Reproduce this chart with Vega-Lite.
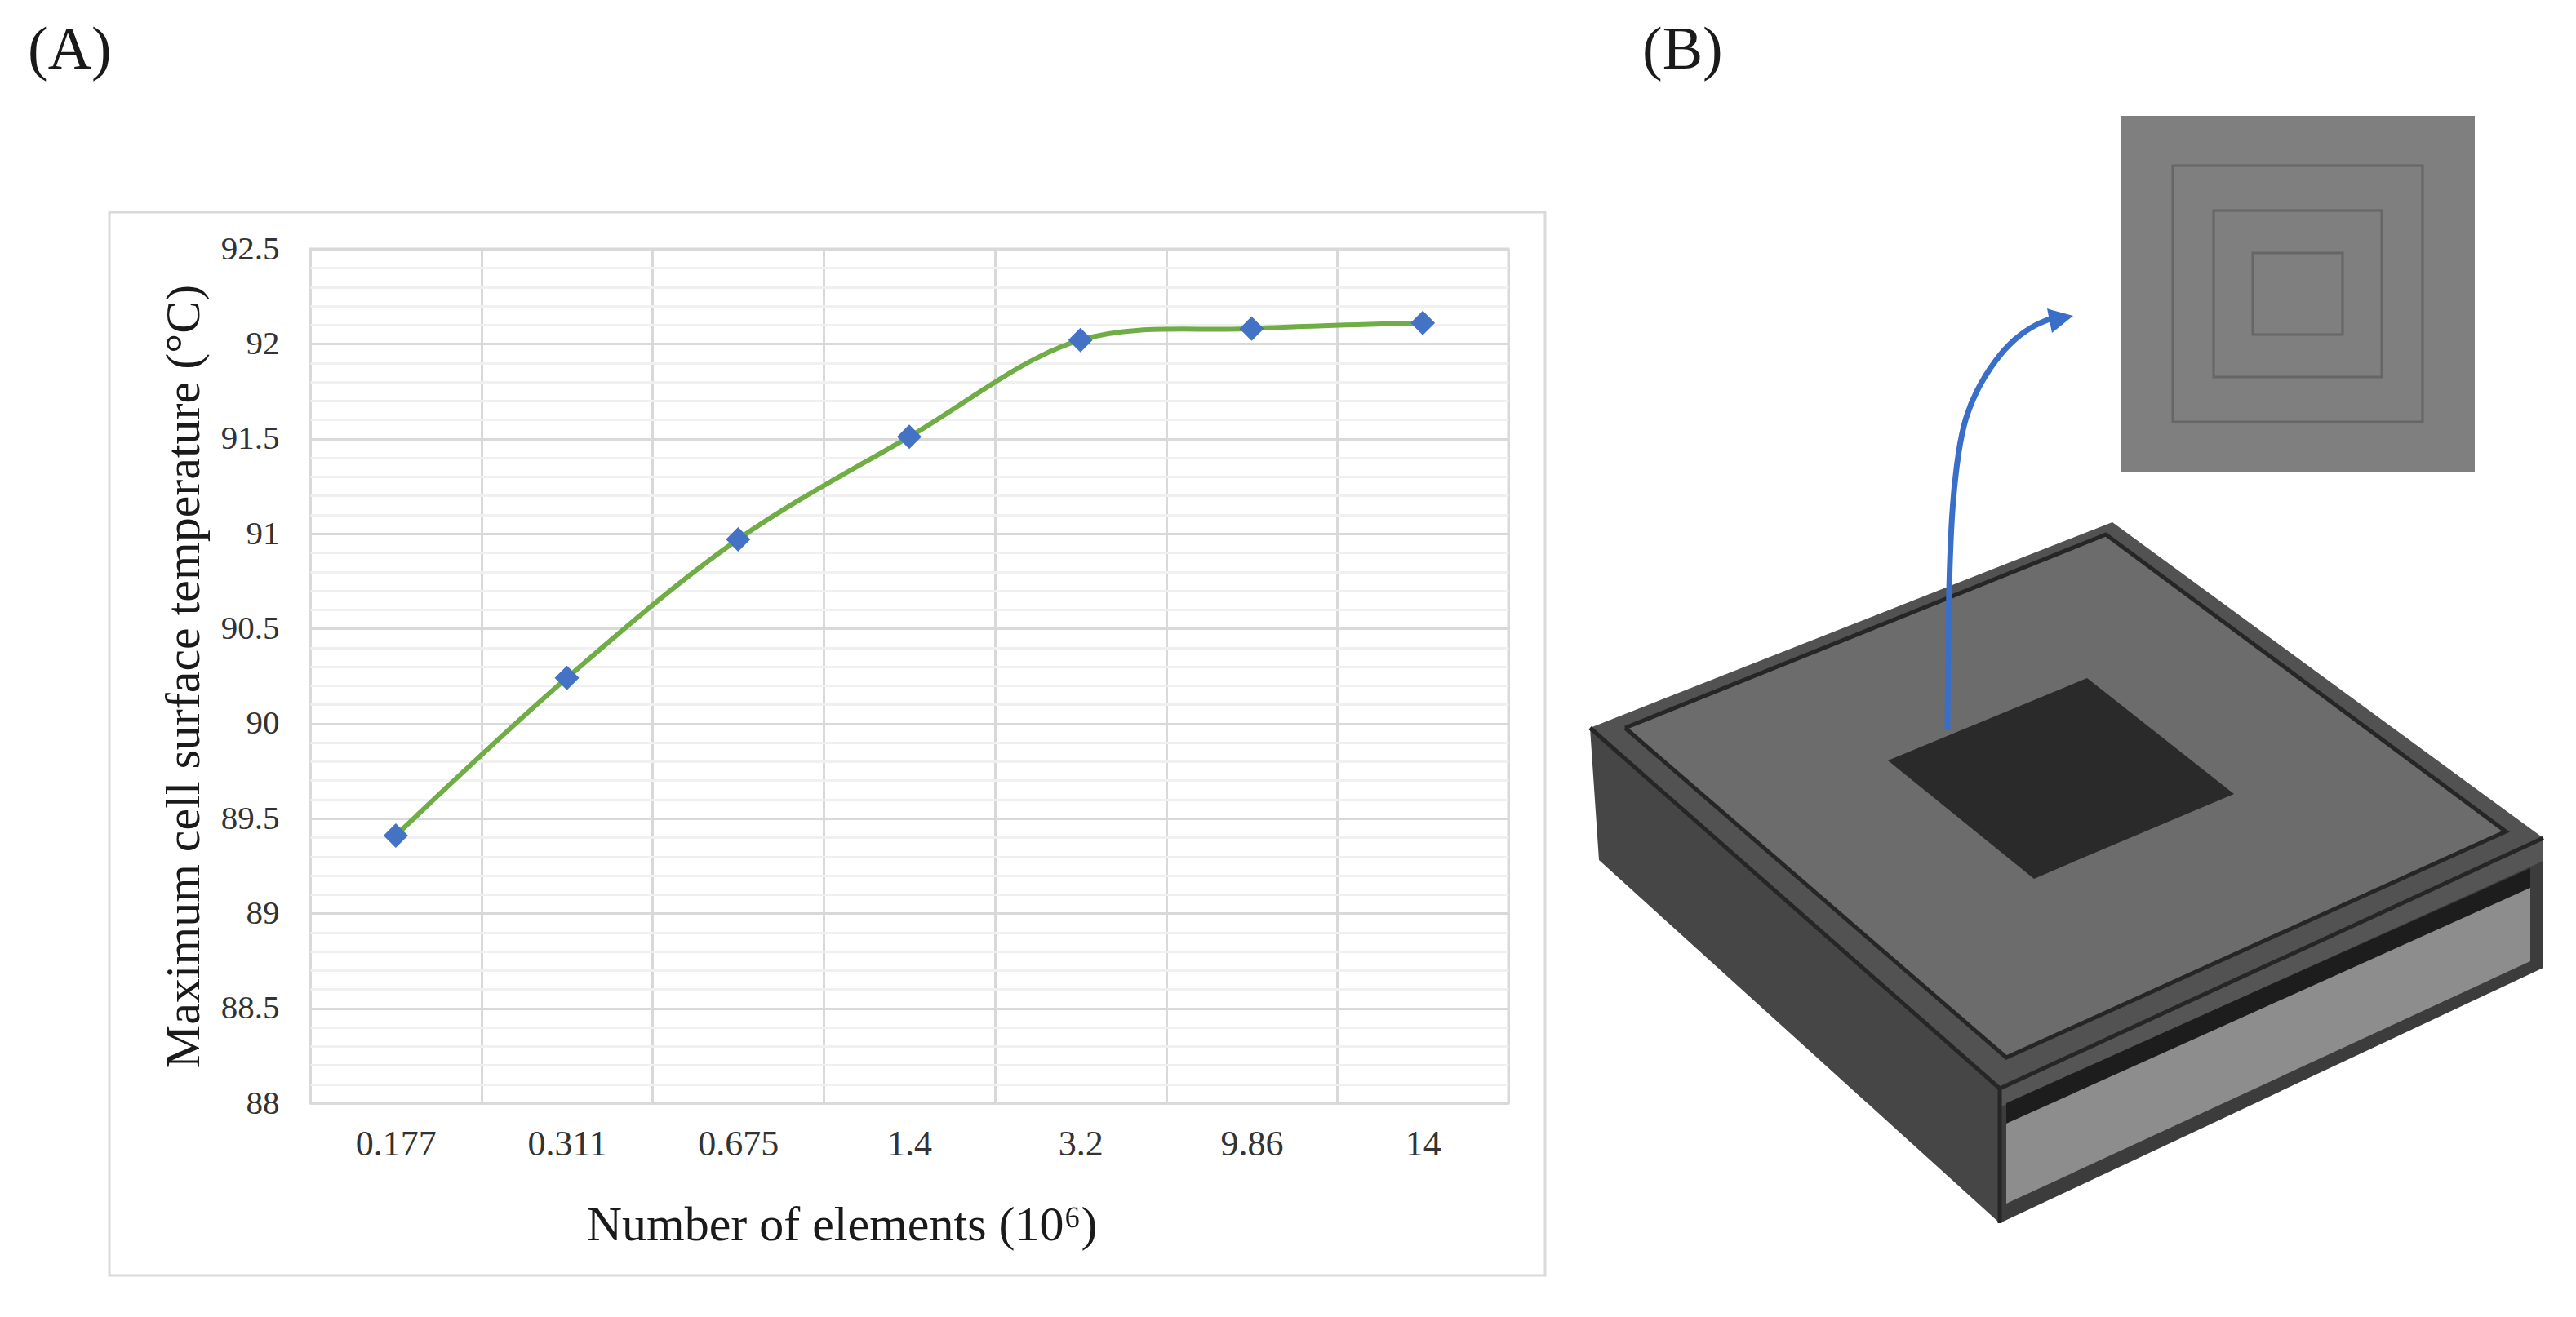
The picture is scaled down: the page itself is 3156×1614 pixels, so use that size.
{"$schema":"https://vega.github.io/schema/vega-lite/v6.json","width":1468,"height":1047,"autosize":{"type":"none"},"padding":{"left":380,"top":305,"right":1308,"bottom":262},"background":"white","config":{"view":{"stroke":"#d9d9d9","strokeWidth":3},"font":"Liberation Serif"},"datasets":{"series":[{"elements":"0.177","temp":89.41},{"elements":"0.311","temp":90.24},{"elements":"0.675","temp":90.97},{"elements":"1.4","temp":91.51},{"elements":"3.2","temp":92.02},{"elements":"9.86","temp":92.08},{"elements":"14","temp":92.11}],"minor":[{"v":88.1},{"v":88.2},{"v":88.3},{"v":88.4},{"v":88.6},{"v":88.7},{"v":88.8},{"v":88.9},{"v":89.1},{"v":89.2},{"v":89.3},{"v":89.4},{"v":89.6},{"v":89.7},{"v":89.8},{"v":89.9},{"v":90.1},{"v":90.2},{"v":90.3},{"v":90.4},{"v":90.6},{"v":90.7},{"v":90.8},{"v":90.9},{"v":91.1},{"v":91.2},{"v":91.3},{"v":91.4},{"v":91.6},{"v":91.7},{"v":91.8},{"v":91.9},{"v":92.1},{"v":92.2},{"v":92.3},{"v":92.4}],"faces":[{"part":"rim","a":1948,"b":892,"c":892},{"part":"rim","a":2450,"b":694,"c":1334},{"part":"rim","a":2588,"b":640,"c":1270},{"part":"rim","a":3116,"b":1027,"c":1027},{"part":"side","a":1948,"b":892,"c":892},{"part":"side","a":1959,"b":902,"c":1054},{"part":"side","a":2450,"b":1334,"c":1499},{"part":"front","a":2450,"b":1334,"c":1499},{"part":"front","a":3116,"b":1027,"c":1186},{"part":"rimfront","a":2450,"b":1334,"c":1357},{"part":"rimfront","a":3116,"b":1027,"c":1055},{"part":"band","a":2458,"b":1352,"c":1377},{"part":"band","a":3100,"b":1064,"c":1088},{"part":"light","a":2458,"b":1377,"c":1475},{"part":"light","a":3100,"b":1088,"c":1178},{"part":"top","a":1991,"b":892,"c":892},{"part":"top","a":2458,"b":704,"c":1296},{"part":"top","a":2580,"b":655,"c":1241},{"part":"top","a":3070,"b":1019,"c":1019},{"part":"chip","a":2313,"b":932,"c":932},{"part":"chip","a":2492,"b":858,"c":1077},{"part":"chip","a":2557,"b":831,"c":1049},{"part":"chip","a":2737,"b":973,"c":973}],"outline":[{"loop":"inner","k":1,"a":1991,"b":892},{"loop":"inner","k":2,"a":2580,"b":655},{"loop":"inner","k":3,"a":3070,"b":1019},{"loop":"inner","k":4,"a":2458,"b":1296},{"loop":"inner","k":5,"a":1991,"b":892},{"loop":"edge","k":1,"a":1948,"b":892},{"loop":"edge","k":2,"a":2450,"b":1334},{"loop":"edge","k":3,"a":3116,"b":1027},{"loop":"post","k":1,"a":2450,"b":1334},{"loop":"post","k":2,"a":2450,"b":1499}],"inset":[{"a":2598,"a2":3032,"b":142,"b2":578}],"rings":[{"a":2662,"a2":2968,"b":203,"b2":517},{"a":2712,"a2":2918,"b":258,"b2":462},{"a":2760,"a2":2870,"b":310,"b2":410}],"arrow":[{"a":2386,"b":895},{"a":2387,"b":760},{"a":2389,"b":680},{"a":2392,"b":620},{"a":2397,"b":570},{"a":2405,"b":520},{"a":2420,"b":480},{"a":2445,"b":440},{"a":2468,"b":415},{"a":2494,"b":397},{"a":2520,"b":388}],"head":[{"a":2508,"b":378,"c":378},{"a":2514,"b":380,"c":408},{"a":2540,"b":387,"c":387}],"frame":[{"a":134,"a2":1893,"b":260,"b2":1563}],"tags":[{"tag":"(A)","a":34,"b":84},{"tag":"(B)","a":2012,"b":84}]},"resolve":{"scale":{"x":"independent","y":"independent"}},"layer":[{"data":{"name":"minor"},"mark":{"type":"rule","opacity":0},"encoding":{"y":{"field":"v","type":"quantitative","scale":{"domain":[88,92.5],"nice":false,"zero":false},"axis":{"orient":"left","values":[88.1,88.2,88.3,88.4,88.6,88.7,88.8,88.9,89.1,89.2,89.3,89.4,89.6,89.7,89.8,89.9,90.1,90.2,90.3,90.4,90.6,90.7,90.8,90.9,91.1,91.2,91.3,91.4,91.6,91.7,91.8,91.9,92.1,92.2,92.3,92.4],"labels":false,"ticks":false,"domain":false,"title":null,"grid":true,"gridColor":"#f0f0f0","gridWidth":3}}}},{"data":{"name":"series"},"encoding":{"x":{"field":"elements","type":"nominal","sort":null,"scale":{"type":"band","paddingInner":0,"paddingOuter":0},"axis":{"title":"Number of elements (10⁶)","titleFont":"Liberation Serif","titleFontSize":60,"titleFontWeight":"normal","titleColor":"#1a1a1a","titlePadding":48,"titleX":651,"labelAngle":0,"labelFont":"Liberation Serif","labelFontSize":44,"labelColor":"#333333","labelPadding":28,"ticks":false,"domain":false,"grid":true,"gridColor":"#d9d9d9","gridWidth":3,"tickBand":"extent"}},"y":{"field":"temp","type":"quantitative","scale":{"domain":[88,92.5],"nice":false,"zero":false},"axis":{"orient":"left","title":"Maximum cell surface temperature (°C)","titleFont":"Liberation Serif","titleFontSize":60,"titleFontWeight":"normal","titleColor":"#1a1a1a","titlePadding":14,"values":[88,88.5,89,89.5,90,90.5,91,91.5,92,92.5],"format":"~g","labelFont":"Liberation Serif","labelFontSize":41,"labelColor":"#333333","labelPadding":38,"ticks":false,"domain":false,"grid":true,"gridColor":"#d9d9d9","gridWidth":3}}},"layer":[{"mark":{"type":"line","color":"#70ad47","strokeWidth":6,"interpolate":"catmull-rom"}},{"mark":{"type":"point","shape":"diamond","filled":true,"color":"#4472c4","size":900,"opacity":1}}]},{"encoding":{"x":{"field":"a","type":"quantitative","scale":{"domain":[380,1848],"nice":false,"zero":false},"axis":null},"y":{"field":"b","type":"quantitative","scale":{"domain":[1352,305],"nice":false,"zero":false},"axis":null}},"layer":[{"data":{"name":"frame"},"mark":{"type":"rect","fillOpacity":0,"stroke":"#d9d9d9","strokeWidth":3},"encoding":{"x2":{"field":"a2"},"y2":{"field":"b2"}}},{"data":{"name":"faces"},"mark":{"type":"area","opacity":1},"encoding":{"y2":{"field":"c"},"detail":{"field":"part"},"color":{"field":"part","type":"nominal","sort":null,"legend":null,"scale":{"domain":["rim","side","front","rimfront","band","light","top","chip"],"range":["#525252","#464646","#3c3c3c","#555555","#1d1d1d","#8d8d8d","#6c6c6c","#2a2a2a"]}}}},{"data":{"name":"outline"},"mark":{"type":"line","color":"#262626","strokeWidth":5},"encoding":{"detail":{"field":"loop"},"order":{"field":"k"}}},{"data":{"name":"inset"},"mark":{"type":"rect","color":"#7f7f7f"},"encoding":{"x2":{"field":"a2"},"y2":{"field":"b2"}}},{"data":{"name":"rings"},"mark":{"type":"rect","fillOpacity":0,"stroke":"#666666","strokeWidth":3},"encoding":{"x2":{"field":"a2"},"y2":{"field":"b2"}}},{"data":{"name":"arrow"},"mark":{"type":"line","color":"#3a6fc9","strokeWidth":7,"interpolate":"basis"}},{"data":{"name":"head"},"mark":{"type":"area","color":"#3a6fc9","opacity":1},"encoding":{"y2":{"field":"c"}}},{"data":{"name":"tags"},"mark":{"type":"text","align":"left","baseline":"alphabetic","font":"Liberation Serif","fontSize":74,"color":"#1a1a1a"},"encoding":{"text":{"field":"tag"}}}]}]}
